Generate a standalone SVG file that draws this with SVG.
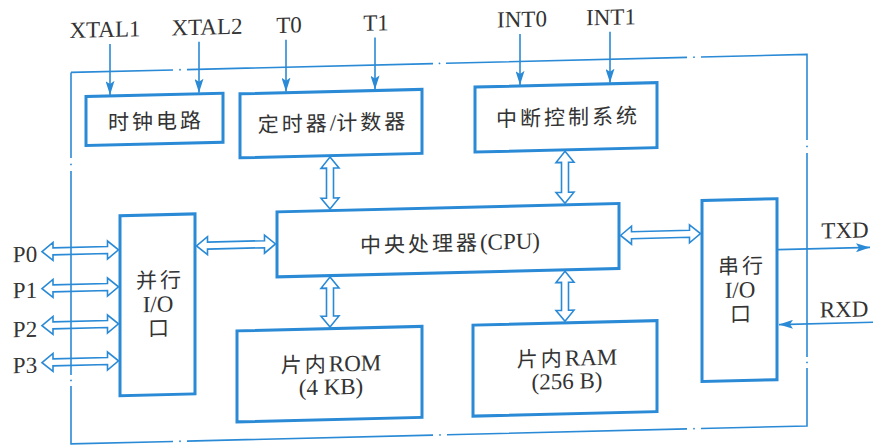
<svg xmlns="http://www.w3.org/2000/svg" width="873" height="445" viewBox="0 0 873 445">
<style>
.box{fill:#fff;stroke:#2a8ad6;stroke-width:3}
.wire{fill:none;stroke:#2a8ad6;stroke-width:1.6}
.bus{fill:#fff;stroke:#2a8ad6;stroke-width:1.6;stroke-linejoin:miter}
.edge{fill:none;stroke:#2a8ad6;stroke-width:1.6}
.lbl{font-family:"Liberation Serif",serif;font-size:23px;fill:#333;text-anchor:middle}
.t{font-family:"Liberation Serif",serif;font-size:23px;fill:#333;text-anchor:middle}
.c{font-family:"Noto Sans CJK SC","Noto Sans CJK TC",sans-serif;font-size:21px;letter-spacing:3px}
</style>
<defs>
<marker id="ah" viewBox="0 0 14 9" refX="14" refY="4.5" markerWidth="14" markerHeight="9" markerUnits="userSpaceOnUse" orient="auto">
<path d="M0,0 L14,4.5 L0,9 L3,4.5 Z" fill="#2a8ad6"/>
</marker>
</defs>
<rect width="873" height="445" fill="#fff"/>
<g id="diagram" transform="translate(0 10.66) skewY(-1.4)">
<g id="labels">
<text class="lbl" x="105" y="29">XTAL1</text>
<text class="lbl" x="207" y="29">XTAL2</text>
<text class="lbl" x="289" y="29">T0</text>
<text class="lbl" x="376" y="29">T1</text>
<text class="lbl" x="522" y="29">INT0</text>
<text class="lbl" x="611" y="29">INT1</text>
<text class="lbl" x="845" y="248">TXD</text>
<text class="lbl" x="844" y="327">RXD</text>
<text class="lbl" x="25" y="252">P0</text>
<text class="lbl" x="25" y="288">P1</text>
<text class="lbl" x="25" y="327">P2</text>
<text class="lbl" x="25" y="363">P3</text>
</g>
<g id="connectors">
<line class="wire" x1="110" y1="36" x2="110" y2="87" marker-end="url(#ah)"/>
<line class="wire" x1="199" y1="36" x2="199" y2="87" marker-end="url(#ah)"/>
<line class="wire" x1="286" y1="36" x2="286" y2="88" marker-end="url(#ah)"/>
<line class="wire" x1="375" y1="36" x2="375" y2="88" marker-end="url(#ah)"/>
<line class="wire" x1="520" y1="36" x2="520" y2="87" marker-end="url(#ah)"/>
<line class="wire" x1="610" y1="36" x2="610" y2="87" marker-end="url(#ah)"/>
<line class="wire" x1="778" y1="258" x2="870" y2="258" marker-end="url(#ah)"/>
<line class="wire" x1="873" y1="333" x2="779" y2="333" marker-end="url(#ah)"/>
<path class="bus" d="M330,154.5 L339,165.5 L333.5,165.5 L333.5,195.5 L339,195.5 L330,206.5 L321,195.5 L326.5,195.5 L326.5,165.5 L321,165.5 Z"/>
<path class="bus" d="M565,154.5 L574,165.5 L568.5,165.5 L568.5,195.5 L574,195.5 L565,206.5 L556,195.5 L561.5,195.5 L561.5,165.5 L556,165.5 Z"/>
<path class="bus" d="M330,274.5 L339,285.5 L333.5,285.5 L333.5,313.5 L339,313.5 L330,324.5 L321,313.5 L326.5,313.5 L326.5,285.5 L321,285.5 Z"/>
<path class="bus" d="M565,274.5 L574,285.5 L568.5,285.5 L568.5,313.5 L574,313.5 L565,324.5 L556,313.5 L561.5,313.5 L561.5,285.5 L556,285.5 Z"/>
<path class="bus" d="M196.5,240 L207.5,231 L207.5,236.5 L264.5,236.5 L264.5,231 L275.5,240 L264.5,249 L264.5,243.5 L207.5,243.5 L207.5,249 Z"/>
<path class="bus" d="M620.5,240 L631.5,231 L631.5,236.5 L689.5,236.5 L689.5,231 L700.5,240 L689.5,249 L689.5,243.5 L631.5,243.5 L631.5,249 Z"/>
<path class="bus" d="M42,242 L53,233 L53,238.5 L107.5,238.5 L107.5,233 L118.5,242 L107.5,251 L107.5,245.5 L53,245.5 L53,251 Z"/>
<path class="bus" d="M42,279 L53,270 L53,275.5 L107.5,275.5 L107.5,270 L118.5,279 L107.5,288 L107.5,282.5 L53,282.5 L53,288 Z"/>
<path class="bus" d="M42,316 L53,307 L53,312.5 L107.5,312.5 L107.5,307 L118.5,316 L107.5,325 L107.5,319.5 L53,319.5 L53,325 Z"/>
<path class="bus" d="M42,353 L53,344 L53,349.5 L107.5,349.5 L107.5,344 L118.5,353 L107.5,362 L107.5,356.5 L53,356.5 L53,362 Z"/>
</g>
<g id="boundary">
<path class="edge" d="M71,63.5 H173 M187,63.5 H433 M446,63.5 H687 M701,63.5 H807 V149 M807,162 V366 M807,377 V435 H701 M687,435 H447 M433,435 H187 M173,435 H71 V377 M71,366 V162 M71,149 V63.5"/>
<g fill="#2a8ad6">
<circle cx="180" cy="63.5" r="0.9"/><circle cx="439.5" cy="63.5" r="0.9"/><circle cx="694" cy="63.5" r="0.9"/>
<circle cx="180" cy="435" r="0.9"/><circle cx="440" cy="435" r="0.9"/><circle cx="694" cy="435" r="0.9"/>
<circle cx="807" cy="155.5" r="0.9"/><circle cx="807" cy="371.5" r="0.9"/>
<circle cx="71" cy="155.5" r="0.9"/><circle cx="71" cy="371.5" r="0.9"/>
</g>
</g>
<g id="clock">
<rect class="box" x="86" y="88" width="137" height="49"/>
<text class="t" x="156" y="122"><tspan class="c">时钟电路</tspan></text>
</g>
<g id="timer">
<rect class="box" x="240" y="89" width="182" height="64"/>
<text class="t" x="333" y="128"><tspan class="c">定时器</tspan>/<tspan class="c">计数器</tspan></text>
</g>
<g id="interrupt">
<rect class="box" x="475" y="88" width="182" height="65"/>
<text class="t" x="568" y="128"><tspan class="c">中断控制系统</tspan></text>
</g>
<g id="cpu">
<rect class="box" x="277" y="208" width="342" height="65"/>
<text class="t" x="450" y="251"><tspan class="c">中央处理器</tspan>(CPU)</text>
</g>
<g id="parallel-io">
<rect class="box" x="120" y="208" width="75" height="180"/>
<text class="t" x="160" y="281"><tspan class="c">并行</tspan></text>
<text class="t" x="158" y="305">I/O</text>
<text class="t" x="160" y="329"><tspan class="c">口</tspan></text>
</g>
<g id="rom">
<rect class="box" x="237" y="326" width="185" height="91"/>
<text class="t" x="331" y="369"><tspan class="c">片内</tspan>ROM</text>
<text class="t" x="331" y="392">(4 KB)</text>
</g>
<g id="ram">
<rect class="box" x="473" y="326" width="184" height="91"/>
<text class="t" x="567" y="369"><tspan class="c">片内</tspan>RAM</text>
<text class="t" x="567" y="392">(256 B)</text>
</g>
<g id="serial-io">
<rect class="box" x="702" y="207" width="75" height="181"/>
<text class="t" x="742" y="281"><tspan class="c">串行</tspan></text>
<text class="t" x="740" y="305">I/O</text>
<text class="t" x="742" y="329"><tspan class="c">口</tspan></text>
</g>
</g>
</svg>
